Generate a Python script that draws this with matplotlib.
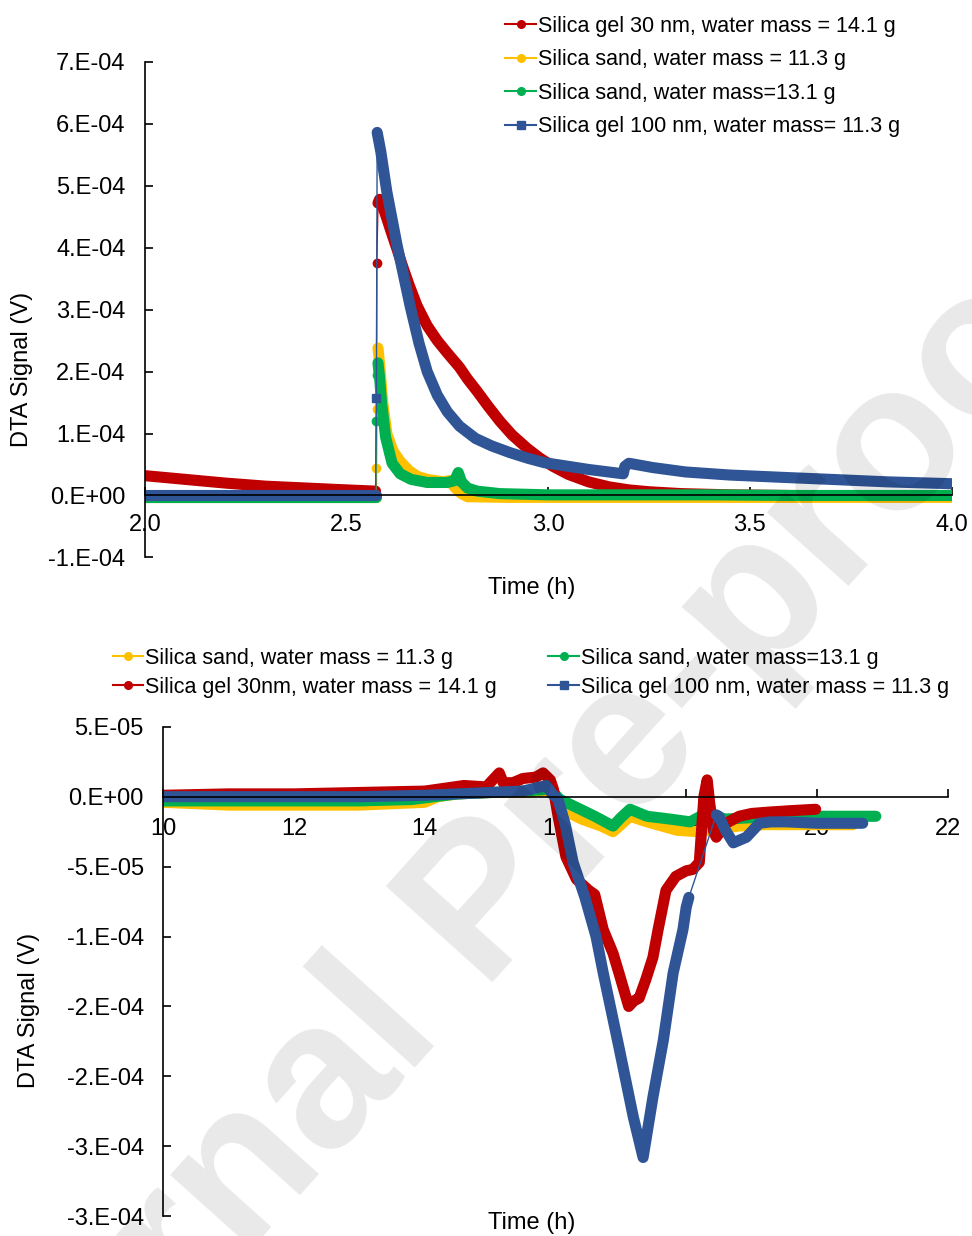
import numpy as np
import matplotlib
matplotlib.use("Agg")
import matplotlib.pyplot as plt
from matplotlib.lines import Line2D

plt.rcParams['font.family'] = ['Liberation Sans', 'DejaVu Sans']

# ---- top panel (values in 1E-4 V) ----
red1_t = [2.00, 2.10, 2.20, 2.30, 2.40, 2.50, 2.572, 2.574, 2.575, 2.578, 2.582, 2.590, 2.600,
          2.610, 2.625, 2.640, 2.655, 2.675, 2.700, 2.725, 2.750, 2.780, 2.800, 2.824, 2.850,
          2.880, 2.910, 2.948, 2.980, 3.012, 3.050, 3.100, 3.150, 3.200, 3.250, 3.330, 3.450,
          3.600, 3.800, 4.000]
red1_v = [0.32, 0.26, 0.20, 0.15, 0.12, 0.09, 0.07, 0.00, 3.75, 4.72, 4.78, 4.66, 4.47,
          4.27, 3.98, 3.68, 3.40, 3.06, 2.74, 2.50, 2.30, 2.07, 1.88, 1.68, 1.45,
          1.20, 0.98, 0.76, 0.60, 0.47, 0.34, 0.22, 0.14, 0.09, 0.06, 0.03, 0.01,
          0.00, -0.01, 0.00]
yel1_t = [2.00, 2.20, 2.40, 2.572, 2.574, 2.576, 2.578, 2.583, 2.590, 2.600, 2.615, 2.633, 2.655,
          2.675, 2.700, 2.740, 2.755, 2.770, 2.785, 2.800, 2.900, 3.100, 3.300, 3.500, 3.700,
          3.900, 4.000]
yel1_v = [-0.03, -0.03, -0.03, -0.03, 0.45, 1.40, 2.38, 2.05, 1.49, 1.00, 0.72, 0.55, 0.40,
          0.31, 0.26, 0.22, 0.24, 0.12, 0.03, -0.02, -0.03, -0.03, -0.03, -0.03, -0.03,
          -0.03, -0.03]
grn1_t = [2.00, 2.20, 2.40, 2.572, 2.574, 2.576, 2.578, 2.582, 2.587, 2.597, 2.613, 2.633, 2.660,
          2.700, 2.750, 2.768, 2.777, 2.785, 2.800, 2.824, 2.880, 3.000, 3.200, 3.400, 3.600,
          3.800, 4.000]
grn1_v = [-0.02, -0.02, -0.02, -0.02, 1.21, 1.95, 2.14, 1.90, 1.49, 0.94, 0.52, 0.35, 0.26,
          0.21, 0.21, 0.24, 0.37, 0.22, 0.12, 0.07, 0.03, 0.01, 0.01, 0.01, 0.00,
          0.00, 0.00]
blu1_t = [2.00, 2.20, 2.40, 2.572, 2.574, 2.576, 2.585, 2.600, 2.625, 2.658, 2.680, 2.700, 2.725,
          2.750, 2.780, 2.820, 2.860, 2.906, 2.950, 2.990, 3.050, 3.100, 3.186, 3.190, 3.200,
          3.260, 3.340, 3.450, 3.590, 3.700, 3.840, 4.000]
blu1_v = [0.00, 0.00, 0.00, 0.00, 1.57, 5.86, 5.55, 4.90, 4.05, 3.05, 2.45, 2.00, 1.62,
          1.35, 1.12, 0.92, 0.80, 0.69, 0.60, 0.53, 0.47, 0.42, 0.35, 0.47, 0.52,
          0.45, 0.38, 0.33, 0.29, 0.26, 0.22, 0.19]

top_xticks = [2.0, 2.5, 3.0, 3.5, 4.0]
top_yticks = [-1e-4, 0, 1e-4, 2e-4, 3e-4, 4e-4, 5e-4, 6e-4, 7e-4]
top_ylabels = ["-1.E-04", "0.E+00", "1.E-04", "2.E-04", "3.E-04", "4.E-04", "5.E-04", "6.E-04", "7.E-04"]

# ---- bottom panel (values in 1E-5 V) ----
yel2_t = [10.0, 10.5, 11.0, 11.5, 12.0, 12.5, 13.0, 13.5, 14.0, 14.2, 14.5, 15.0, 15.5, 15.8, 15.95,
          16.1, 16.4, 16.7, 16.88, 17.0, 17.14, 17.4, 17.86, 18.17, 18.5, 18.8, 19.2, 19.6, 20.0, 20.55]
yel2_v = [-0.4, -0.5, -0.6, -0.6, -0.6, -0.6, -0.6, -0.5, -0.4, 0.0, 0.2, 0.3, 0.3, 0.4, 0.3,
          -0.9, -1.6, -2.1, -2.5, -2.0, -1.4, -1.8, -2.4, -2.5, -2.3, -2.1, -2.0, -2.0, -2.0, -2.0]
grn2_t = [10.0, 11.0, 12.0, 13.0, 13.8, 14.5, 15.0, 15.5, 15.8, 15.9, 16.07, 16.38, 16.6, 16.88, 17.0,
          17.14, 17.4, 17.75, 18.06, 18.3, 18.6, 19.0, 19.5, 20.0, 20.5, 20.9]
grn2_v = [-0.3, -0.3, -0.3, -0.3, -0.2, 0.2, 0.3, 0.4, 0.5, 0.6, -0.2, -0.9, -1.4, -2.1, -1.5,
          -0.9, -1.4, -1.6, -1.8, -1.2, -1.6, -1.5, -1.4, -1.4, -1.4, -1.4]
red2_t = [10.0, 11.0, 12.0, 13.0, 14.0, 14.3, 14.6, 14.94, 15.14, 15.2, 15.35, 15.5, 15.7, 15.81, 15.92,
          15.97, 16.04, 16.16, 16.32, 16.51, 16.6, 16.73, 16.88, 16.97, 17.12, 17.20, 17.28, 17.38, 17.49,
          17.57, 17.69, 17.84, 18.0, 18.1, 18.2, 18.27, 18.32, 18.36, 18.42, 18.46, 18.61, 18.81, 19.0,
          19.27, 19.6, 19.98]
red2_v = [0.1, 0.2, 0.2, 0.3, 0.4, 0.6, 0.8, 0.7, 1.7, 1.0, 1.0, 1.3, 1.4, 1.7, 1.2,
          0.5, -1.4, -4.3, -5.9, -6.7, -7.0, -9.5, -11.2, -12.6, -15.0, -14.6, -14.4, -13.1, -11.5,
          -9.5, -6.7, -5.7, -5.3, -5.2, -4.7, 0.0, 1.2, -0.5, -2.5, -2.9, -1.9, -1.4, -1.2,
          -1.1, -1.0, -0.9]
blu2_t = [10.0, 11.0, 12.0, 13.0, 14.0, 14.5, 15.0, 15.5, 15.86, 15.95, 16.04, 16.15, 16.27, 16.45,
          16.62, 16.73, 16.97, 17.19, 17.34, 17.49, 17.65, 17.80, 17.95, 18.0, 18.04, 18.46, 18.5, 18.6,
          18.72, 18.92, 19.12, 19.3, 19.53, 20.0, 20.4, 20.7]
blu2_v = [0.0, 0.0, 0.0, 0.0, 0.1, 0.2, 0.3, 0.4, 0.8, 0.2, -0.2, -2.0, -4.7, -7.2,
          -10.0, -12.6, -17.9, -22.9, -25.8, -21.5, -17.4, -12.6, -9.5, -7.9, -7.2, -1.3, -1.4, -2.4,
          -3.3, -2.9, -1.9, -1.8, -1.8, -1.9, -1.9, -1.9]

bot_xticks = [10, 12, 14, 16, 18, 20, 22]
bot_yticks = [-3e-4, -2.5e-4, -2e-4, -1.5e-4, -1e-4, -5e-5, 0, 5e-5]
bot_ylabels = ["-3.E-04", "-3.E-04", "-2.E-04", "-2.E-04", "-1.E-04", "-5.E-05", "0.E+00", "5.E-05"]

RED, YEL, GRN, BLU = "#C00000", "#FFC000", "#00B050", "#2F5597"
LW = 8


def draw(ax, t, v, scale, color, marker, spike=None):
    t = np.asarray(t)
    v = np.asarray(v) * scale
    kw = dict(color=color, lw=LW, solid_capstyle='round', solid_joinstyle='round')
    if spike is None:
        ax.plot(t, v, **kw)
        return
    a, b = spike
    ax.plot(t[:a + 1], v[:a + 1], **kw)
    ax.plot(t[a:b + 1], v[a:b + 1], color=color, lw=1.0)
    ax.plot(t[a + 1:b], v[a + 1:b], ls='none', marker=marker, ms=6, color=color)
    ax.plot(t[b:], v[b:], **kw)


def style(ax):
    ax.spines['top'].set_visible(False)
    ax.spines['right'].set_visible(False)
    ax.spines['bottom'].set_position(('data', 0))
    for s in ('left', 'bottom'):
        ax.spines[s].set_linewidth(1.2)
    ax.tick_params(direction='in', length=6, width=1.2, labelsize=17)


def handle(color, marker):
    return Line2D([], [], color=color, lw=1.5, marker=marker, ms=5.5)


fig = plt.figure(figsize=(9.72, 12.36), dpi=100)

# top panel
ax1 = fig.add_axes([0.149, 0.549, 0.830, 0.401])
draw(ax1, red1_t, red1_v, 1e-4, RED, 'o', (6, 9))
draw(ax1, yel1_t, yel1_v, 1e-4, YEL, 'o', (3, 6))
draw(ax1, grn1_t, grn1_v, 1e-4, GRN, 'o', (3, 6))
draw(ax1, blu1_t, blu1_v, 1e-4, BLU, 's', (3, 5))
ax1.set_xlim(2.0, 4.0)
ax1.set_ylim(-1e-4, 7e-4)
style(ax1)
ax1.tick_params(axis='x', pad=13)
ax1.tick_params(axis='y', pad=14)
ax1.set_xticks(top_xticks)
ax1.set_xticklabels([f"{x:.1f}" for x in top_xticks])
ax1.set_yticks(top_yticks)
ax1.set_yticklabels(top_ylabels)
ax1.set_xlabel("Time (h)", fontsize=17)
ax1.xaxis.set_label_coords(0.48, -0.04)
ax1.set_ylabel("DTA Signal (V)", fontsize=17)
ax1.yaxis.set_label_coords(-0.139, 0.38)
ax1.legend([handle(RED, 'o'), handle(YEL, 'o'), handle(GRN, 'o'), handle(BLU, 's')],
           ["Silica gel 30 nm, water mass = 14.1 g", "Silica sand, water mass = 11.3 g",
            "Silica sand, water mass=13.1 g", "Silica gel 100 nm, water mass= 11.3 g"],
           loc='upper left', bbox_to_anchor=(0.520, 1 - 16 / 1236), bbox_transform=fig.transFigure,
           frameon=False, fontsize=15.5, handlelength=1.4, handletextpad=0.1,
           labelspacing=0.58, borderpad=0, borderaxespad=0)

# bottom panel
ax2 = fig.add_axes([0.168, 0.016, 0.807, 0.396])
draw(ax2, yel2_t, yel2_v, 1e-5, YEL, 'o')
draw(ax2, grn2_t, grn2_v, 1e-5, GRN, 'o')
draw(ax2, red2_t, red2_v, 1e-5, RED, 'o')
draw(ax2, blu2_t, blu2_v, 1e-5, BLU, 's', (24, 25))
ax2.set_xlim(10, 22)
ax2.set_ylim(-3e-4, 5e-5)
style(ax2)
ax2.tick_params(axis='x', pad=15)
ax2.tick_params(axis='y', pad=14)
ax2.set_xticks(bot_xticks)
ax2.set_yticks(bot_yticks)
ax2.set_yticklabels(bot_ylabels)
ax2.set_xlabel("Time (h)", fontsize=17)
ax2.xaxis.set_label_coords(0.47, 0.008)
ax2.set_ylabel("DTA Signal (V)", fontsize=17)
ax2.yaxis.set_label_coords(-0.157, 0.42)
ax2.legend([handle(YEL, 'o'), handle(RED, 'o'), handle(GRN, 'o'), handle(BLU, 's')],
           ["Silica sand, water mass = 11.3 g", "Silica gel 30nm, water mass = 14.1 g",
            "Silica sand, water mass=13.1 g", "Silica gel 100 nm, water mass = 11.3 g"],
           ncol=2, loc='upper left', bbox_to_anchor=(0.116, 1 - 648 / 1236),
           bbox_transform=fig.transFigure, frameon=False, fontsize=15.5,
           handlelength=1.4, handletextpad=0.1, labelspacing=0.35, columnspacing=2.4,
           borderpad=0, borderaxespad=0)

# watermark
fig.text(0.50, 0.265, "Journal Pre-proof", fontsize=150, fontweight='bold', color='black',
         alpha=0.09, rotation=48, ha='center', va='center', rotation_mode='anchor', zorder=10)

fig.savefig("out.png", dpi=100)
